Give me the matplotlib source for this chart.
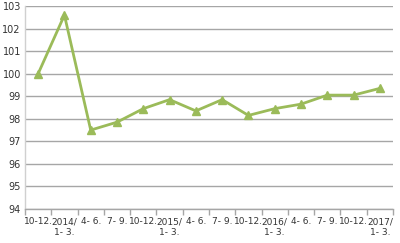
import matplotlib.pyplot as plt
import numpy as np

# quarter labels and index values
labels = ['10-12.', '2014/\n1- 3.', '4- 6.', '7- 9.', '10-12.', '2015/\n1- 3.', '4- 6.',
          '7- 9.', '10-12.', '2016/\n1- 3.', '4- 6.', '7- 9.', '10-12.', '2017/\n1- 3.']
values = [100.0, 102.6, 97.5, 97.85, 98.45, 98.85, 98.35, 98.85, 98.15, 98.45, 98.65, 99.05, 99.05, 99.35]

green = '#9bbb59'
grey = '#a6a6a6'

fig = plt.figure(figsize=(4, 2.43), dpi=100)
ax = fig.add_axes([0.0625, 0.14, 0.92, 0.835])

x = np.arange(len(values))
ax.plot(x, values, color=green, linewidth=2, marker='^', markersize=6, zorder=3)

ax.set_xlim(-0.5, len(values) - 0.5)
ax.set_ylim(94, 103)
ax.set_yticks(np.arange(94, 104, 1))
ax.tick_params(axis='y', length=0, labelsize=7, pad=3, colors='#333333')
ax.yaxis.grid(True, color=grey, linewidth=1)
ax.set_axisbelow(True)

# labels at category centres, tick marks at boundaries
ax.set_xticks(x)
ax.set_xticklabels(labels, fontsize=6.5, color='#333333', linespacing=1.3)
ax.tick_params(axis='x', which='major', length=0, pad=6)
ax.set_xticks(np.arange(-0.5, len(values), 1), minor=True)
ax.tick_params(axis='x', which='minor', length=4, color=grey, width=1)

for s in ['top', 'right']:
    ax.spines[s].set_visible(False)
ax.spines['left'].set_color('#d0d0d0')
ax.spines['bottom'].set_color(grey)
ax.spines['left'].set_linewidth(1)
ax.spines['bottom'].set_linewidth(1)

fig.savefig('out.png', dpi=100)
